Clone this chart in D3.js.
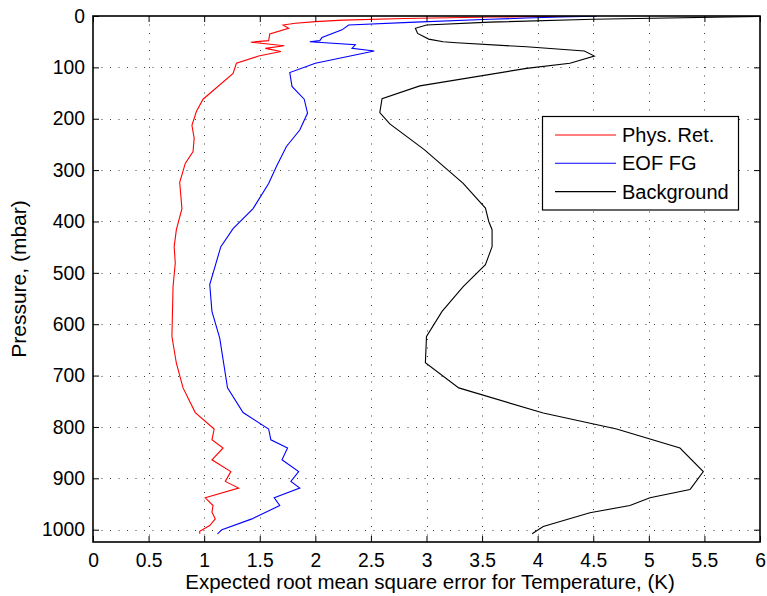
<!DOCTYPE html>
<html>
<head>
<meta charset="utf-8">
<script src="https://cdn.jsdelivr.net/npm/d3@7"></script>
<style>
  body { margin: 0; background: #fff; }
  text { font-family: "Liberation Sans", Arial, Helvetica, sans-serif; }
</style>
</head>
<body>
<div id="chart"></div>
<script>
// pressure levels (mbar) and RMS error (K)
const physP = [0.3, 2, 5, 8, 11, 14, 17.5, 24, 35, 48, 51, 58, 63, 69, 78, 92, 112, 162, 186, 213, 238, 264, 287, 324, 375, 416, 449, 481, 527, 624, 676, 724, 772, 804, 825, 841, 864, 887, 906, 919, 938, 953, 966, 979, 992, 1003, 1008]
const physT = [4.29, 3.6, 2.8, 2.25, 2.0, 1.82, 1.71, 1.76, 1.59, 1.58, 1.42, 1.72, 1.55, 1.69, 1.49, 1.29, 1.26, 0.99, 0.93, 0.89, 0.91, 0.90, 0.83, 0.78, 0.80, 0.75, 0.73, 0.74, 0.72, 0.71, 0.75, 0.81, 0.92, 1.09, 1.07, 1.17, 1.07, 1.24, 1.19, 1.31, 1.01, 1.08, 1.07, 1.10, 1.05, 0.96, 0.96]

const eofP = [0.5, 2, 4, 6.4, 12, 17.5, 27, 42, 48, 50, 56, 63, 68, 92, 110, 137, 162, 189, 222, 254, 293, 326, 375, 414, 449, 523, 575, 627, 724, 772, 804, 825, 841, 864, 887, 906, 919, 938, 953, 979, 1000, 1008]
const eofT = [4.53, 4.2, 3.9, 3.57, 2.9, 2.30, 2.24, 2.06, 2.04, 1.95, 2.36, 2.33, 2.53, 2.0, 1.77, 1.79, 1.90, 1.93, 1.86, 1.74, 1.65, 1.58, 1.44, 1.26, 1.15, 1.05, 1.07, 1.14, 1.21, 1.35, 1.58, 1.60, 1.75, 1.70, 1.85, 1.78, 1.86, 1.63, 1.68, 1.43, 1.16, 1.12]

const bgP = [0.8, 6.4, 12, 17.5, 24, 34, 45, 50, 52, 60, 68, 78, 92, 102, 136, 161, 188, 210, 260, 326, 374, 400, 416, 449, 484, 527, 575, 624, 675, 724, 773, 804, 841, 887, 919, 922, 938, 953, 967, 994, 1008]
const bgT = [6.0, 4.5, 3.57, 3.0, 2.90, 2.92, 3.02, 3.15, 3.27, 3.90, 4.42, 4.51, 4.29, 3.90, 2.94, 2.60, 2.58, 2.67, 2.98, 3.33, 3.53, 3.56, 3.59, 3.59, 3.53, 3.33, 3.14, 3.0, 2.99, 3.29, 4.05, 4.71, 5.28, 5.49, 5.38, 5.37, 5.01, 4.83, 4.47, 4.05, 3.95]

const seriesNames = ['Phys. Ret.', 'EOF FG', 'Background']
const seriesColors = ['#ff0000', '#0000ff', '#000000']
const xTicks = [0, 0.5, 1, 1.5, 2, 2.5, 3, 3.5, 4, 4.5, 5, 5.5, 6]
const yTicks = [0, 100, 200, 300, 400, 500, 600, 700, 800, 900, 1000]

const W = 767, H = 596
const plot = {left: 93, right: 760, top: 16, bottom: 542}

const x = d3.scaleLinear().domain([0, 6]).range([plot.left, plot.right])
const y = d3.scaleLinear().domain([0, 1024]).range([plot.top, plot.bottom])

const svg = d3.select('#chart').append('svg')
    .attr('width', W)
    .attr('height', H)

svg.append('defs').append('clipPath').attr('id', 'clip')
    .append('rect')
    .attr('x', plot.left).attr('y', plot.top)
    .attr('width', plot.right - plot.left).attr('height', plot.bottom - plot.top)

// dotted grid
const grid = svg.append('g').attr('stroke', '#000').attr('stroke-width', 1)
    .attr('stroke-dasharray', '1,7.5').attr('opacity', 0.75)
grid.selectAll('.gx').data(xTicks.slice(1, -1)).enter().append('line')
    .attr('x1', d => Math.round(x(d)) + 0.5).attr('x2', d => Math.round(x(d)) + 0.5)
    .attr('y1', plot.top).attr('y2', plot.bottom)
grid.selectAll('.gy').data(yTicks.slice(1)).enter().append('line')
    .attr('y1', d => Math.round(y(d)) + 0.5).attr('y2', d => Math.round(y(d)) + 0.5)
    .attr('x1', plot.left).attr('x2', plot.right)

// lines
const series = [
    {p: physP, t: physT},
    {p: eofP, t: eofT},
    {p: bgP, t: bgT}
]
const line = d3.line().x(d => x(d[1])).y(d => y(d[0]))
const lines = svg.append('g').attr('clip-path', 'url(#clip)')
series.forEach((s, i) => {
    lines.append('path')
        .datum(s.p.map((p, j) => [p, s.t[j]]))
        .attr('fill', 'none')
        .attr('stroke', seriesColors[i])
        .attr('stroke-width', 1.1)
        .attr('d', line)
})

// axes, ticks inward, box on
const fs = '19.3px'
let xAxis = svg.append('g')
    .attr('transform', 'translate(0,' + plot.bottom + ')')
    .call(d3.axisBottom(x).tickValues(xTicks).tickFormat(d => String(d))
        .tickSize(-6).tickPadding(11).tickSizeOuter(0))
xAxis.selectAll('text').style('font-size', fs).attr('fill', '#000')

let yAxis = svg.append('g')
    .attr('transform', 'translate(' + plot.left + ',0)')
    .call(d3.axisLeft(y).tickValues(yTicks).tickFormat(d => String(d))
        .tickSize(-6).tickPadding(8).tickSizeOuter(0))
yAxis.selectAll('text').style('font-size', fs).attr('fill', '#000')

svg.append('g').attr('transform', 'translate(0,' + plot.top + ')')
    .call(d3.axisTop(x).tickValues(xTicks).tickSize(-6).tickFormat('').tickSizeOuter(0))
svg.append('g').attr('transform', 'translate(' + plot.right + ',0)')
    .call(d3.axisRight(y).tickValues(yTicks).tickSize(-6).tickFormat('').tickSizeOuter(0))

svg.selectAll('.domain').remove()
svg.append('rect')
    .attr('x', plot.left).attr('y', plot.top)
    .attr('width', plot.right - plot.left).attr('height', plot.bottom - plot.top)
    .attr('fill', 'none').attr('stroke', '#000').attr('stroke-width', 1.6)

// labels
svg.append('text')
    .attr('x', 430).attr('y', 589)
    .attr('text-anchor', 'middle')
    .style('font-size', '20.5px')
    .text('Expected root mean square error for Temperature, (K)')

svg.append('text')
    .attr('transform', 'translate(26,' + 279 + ') rotate(-90)')
    .attr('text-anchor', 'middle')
    .style('font-size', '21px')
    .text('Pressure, (mbar)')

// legend
const lg = svg.append('g')
lg.append('rect')
    .attr('x', 542.5).attr('y', 116.5)
    .attr('width', 196).attr('height', 93.5)
    .attr('fill', '#fff').attr('stroke', '#000').attr('stroke-width', 1.2)
seriesNames.forEach((name, i) => {
    const ly = 135 + i * 28.3
    lg.append('line')
        .attr('x1', 555).attr('x2', 616)
        .attr('y1', ly).attr('y2', ly)
        .attr('stroke', seriesColors[i]).attr('stroke-width', 1.1)
    lg.append('text')
        .attr('x', 622).attr('y', ly + 7)
        .style('font-size', '20px')
        .text(name)
})
</script>
</body>
</html>
